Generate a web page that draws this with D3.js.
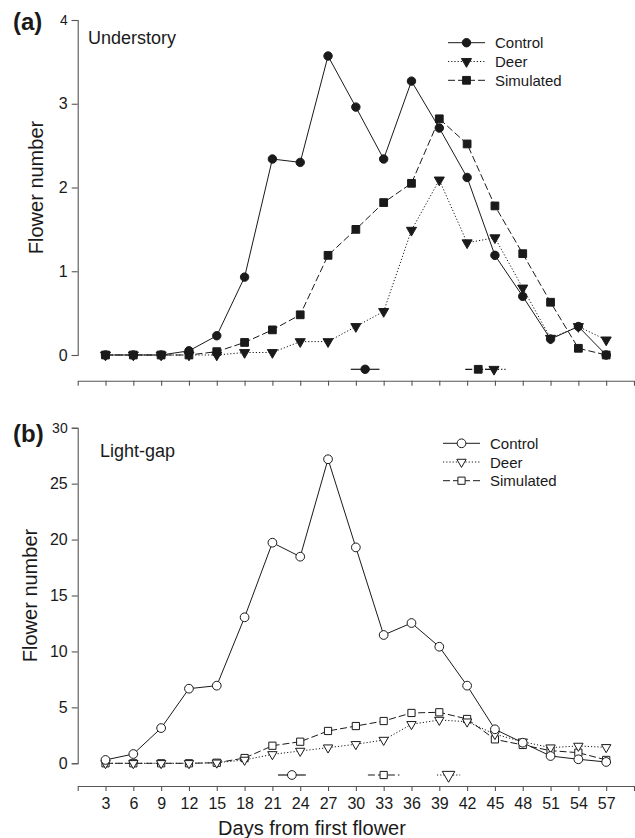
<!DOCTYPE html>
<html>
<head>
<meta charset="utf-8">
<script src="https://cdn.jsdelivr.net/npm/d3@7"></script>
<style>
  body { margin: 0; background: #fff; }
  text { font-family: "Liberation Sans", Arial, Helvetica, sans-serif; fill: #1a1a1a; }
</style>
</head>
<body>
<svg width="635" height="838"></svg>
<script>
// days on the x axis
var days = [3, 6, 9, 12, 15, 18, 21, 24, 27, 30, 33, 36, 39, 42, 45, 48, 51, 54, 57];

// (a) understory
var aControl = [0, 0, 0, 0.05, 0.23, 0.93, 2.34, 2.30, 3.57, 2.96, 2.34, 3.27, 2.71, 2.12, 1.19, 0.70, 0.19, 0.34, 0];
var aDeer = [0, 0, 0, 0, 0, 0.03, 0.03, 0.16, 0.16, 0.34, 0.52, 1.49, 2.09, 1.34, 1.40, 0.80, 0.20, 0.34, 0.18];
var aSimulated = [0, 0, 0, 0, 0.04, 0.15, 0.30, 0.48, 1.19, 1.50, 1.82, 2.05, 2.82, 2.52, 1.78, 1.21, 0.63, 0.08, 0];
var aTicks = [0, 1, 2, 3, 4];
// mean day of flowering +- interval (control, deer, simulated)
var aPeak = [31.0, 44.9, 43.2];
var aPeakErr = [1.55, 1.3, 1.4];

// (b) light-gap
var bControl = [0.30, 0.83, 3.15, 6.67, 6.94, 13.05, 19.72, 18.47, 27.18, 19.30, 11.47, 12.54, 10.42, 6.94, 3.04, 1.84, 0.65, 0.36, 0.12];
var bDeer = [0, 0, 0, 0, 0.05, 0.30, 0.80, 1.10, 1.40, 1.70, 2.08, 3.49, 3.87, 3.72, 2.60, 1.93, 1.40, 1.55, 1.43];
var bSimulated = [0, 0, 0, 0, 0.05, 0.47, 1.57, 1.93, 2.89, 3.33, 3.78, 4.50, 4.56, 3.96, 2.14, 1.64, 1.13, 0.95, 0.30];
var bTicks = [0, 5, 10, 15, 20, 25, 30];
var bPeak = [23.1, 40.0, 33.0];
var bPeakErr = [1.5, 1.25, 1.7];

var seriesNames = ["Control", "Deer", "Simulated"];

function main() {
    var svg = d3.select("svg");
    var ink = "#1a1a1a";

    var x = d3.scaleLinear().domain([0, 60]).range([77.7, 634]);

    // line style and marker for each series
    var dashes = [null, "1.2,2", "7,3"];
    var shapes = [d3.symbolCircle, d3.symbolTriangle, d3.symbolSquare];
    var rotate = [0, 180, 0];

    function drawPanel(p) {
        var y = d3.scaleLinear().domain(p.domain).range(p.range);
        var g = svg.append("g");

        // y axis
        var yAxis = g.append("g")
            .attr("transform", "translate(" + x(0) + ",0)")
            .call(d3.axisLeft(y).tickValues(p.ticks).tickFormat(d3.format("d"))
                .tickSizeOuter(0).tickSize(6).tickPadding(4));
        yAxis.selectAll("text").style("font-size", "16px");
        // the top label is printed a little smaller in the original
        yAxis.selectAll(".tick:last-of-type text").style("font-size", "14px");

        // x axis, a bit below the zero line
        var xAxis = g.append("g")
            .attr("transform", "translate(0," + p.xAxisY + ")")
            .call(d3.axisBottom(x).tickValues(days).tickSizeOuter(0).tickSize(5).tickPadding(7));
        xAxis.selectAll("text").style("font-size", "16px");
        if (!p.xLabels) xAxis.selectAll("text").remove();

        [yAxis, xAxis].forEach(function (a) {
            a.selectAll("path, line").attr("stroke", "#555").attr("stroke-width", 1.1);
        });

        // y title
        g.append("text")
            .attr("transform", "translate(" + p.titleX + "," + ((p.range[0] + p.range[1]) / 2) + ") rotate(-90)")
            .attr("text-anchor", "middle")
            .style("font-size", "20px")
            .text("Flower number");

        // panel letter and habitat name
        g.append("text")
            .attr("x", 13).attr("y", p.letterY)
            .style("font-size", "24px").style("font-weight", "bold")
            .text(p.letter);
        g.append("text")
            .attr("x", p.nameX).attr("y", p.nameY)
            .style("font-size", "18px")
            .text(p.name);

        var line = d3.line()
            .x(function (d, i) { return x(days[i]); })
            .y(function (d) { return y(d); });

        // draw simulated first, then deer, then control on top
        [2, 1, 0].forEach(function (s) {
            var vals = p.series[s];
            g.append("path")
                .attr("d", line(vals))
                .attr("fill", "none")
                .attr("stroke", ink)
                .attr("stroke-width", 1)
                .attr("stroke-dasharray", dashes[s]);

            g.selectAll(".m" + s)
                .data(vals)
                .enter().append("path")
                .attr("class", "m" + s)
                .attr("d", d3.symbol().type(shapes[s]).size(p.sizes[s]))
                .attr("transform", function (d, i) {
                    return "translate(" + x(days[i]) + "," + y(d) + ") rotate(" + rotate[s] + ")";
                })
                .attr("fill", p.filled ? ink : "#fff")
                .attr("stroke", ink)
                .attr("stroke-width", 1);
        });

        // flowering peak markers below the curves
        seriesNames.forEach(function (name, s) {
            var c = p.peak[s], e = p.peakErr[s];
            g.append("line")
                .attr("x1", x(c - e)).attr("x2", x(c + e))
                .attr("y1", p.peakY).attr("y2", p.peakY)
                .attr("stroke", ink)
                .attr("stroke-width", 1.2)
                .attr("stroke-dasharray", dashes[s]);
        });
        seriesNames.forEach(function (name, s) {
            g.append("path")
                .attr("d", d3.symbol().type(shapes[s]).size(s == 1 && !p.filled ? p.sizes[s] * 1.8 : p.sizes[s]))
                .attr("transform", "translate(" + x(p.peak[s]) + "," + p.peakY + ") rotate(" + rotate[s] + ")")
                .attr("fill", p.filled ? ink : "#fff")
                .attr("stroke", ink)
                .attr("stroke-width", 1);
        });

        // legend
        seriesNames.forEach(function (name, s) {
            var ly = p.legendY + s * p.legendGap;
            g.append("line")
                .attr("x1", p.legendX).attr("x2", p.legendX + 37)
                .attr("y1", ly).attr("y2", ly)
                .attr("stroke", ink)
                .attr("stroke-width", 1)
                .attr("stroke-dasharray", dashes[s]);
            g.append("path")
                .attr("d", d3.symbol().type(shapes[s]).size(p.sizes[s]))
                .attr("transform", "translate(" + (p.legendX + 18.5) + "," + ly + ") rotate(" + rotate[s] + ")")
                .attr("fill", p.filled ? ink : "#fff")
                .attr("stroke", ink)
                .attr("stroke-width", 1);
            g.append("text")
                .attr("x", p.legendX + 47).attr("y", ly + 5.5)
                .style("font-size", "15px")
                .text(name);
        });
    }

    drawPanel({
        series: [aControl, aDeer, aSimulated],
        domain: [0, 4], range: [355, 20], ticks: aTicks,
        xAxisY: 380.7, xLabels: false, titleX: 43,
        letter: "(a)", letterY: 30, name: "Understory", nameX: 88, nameY: 44,
        filled: true, sizes: [56, 44, 60],
        peak: aPeak, peakErr: aPeakErr, peakY: 369.3,
        legendX: 448, legendY: 42.7, legendGap: 18.8
    });

    drawPanel({
        series: [bControl, bDeer, bSimulated],
        domain: [0, 30], range: [763.3, 427.7], ticks: bTicks,
        xAxisY: 786, xLabels: true, titleX: 37,
        letter: "(b)", letterY: 441.5, name: "Light-gap", nameX: 100, nameY: 457,
        filled: false, sizes: [60, 38, 52],
        peak: bPeak, peakErr: bPeakErr, peakY: 775,
        legendX: 443, legendY: 443.3, legendGap: 18.7
    });

    // x axis title
    svg.append("text")
        .attr("x", 312).attr("y", 835)
        .attr("text-anchor", "middle")
        .style("font-size", "20px")
        .text("Days from first flower");
}

main();
</script>
</body>
</html>
